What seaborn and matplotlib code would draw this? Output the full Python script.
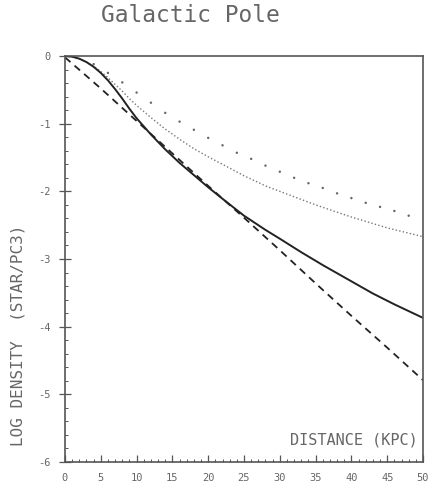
import matplotlib
matplotlib.use("Agg")
import matplotlib.pyplot as plt
from matplotlib.ticker import MultipleLocator
import seaborn as sns
import pandas as pd

sns.set_theme(style="white")
plt.rcParams['font.family'] = ['DejaVu Sans Mono', 'DejaVu Sans']

# ---- data ----
solid_x = [0, 1, 2, 3, 4, 5, 6, 7, 8, 9, 10, 11, 12, 13, 14, 15, 16, 18, 20, 22, 25, 28, 30,
           33, 36, 40, 43, 46, 50]
solid_y = [0, -0.01, -0.04, -0.09, -0.16, -0.25, -0.36, -0.49, -0.63, -0.78, -0.92, -1.04,
           -1.16, -1.27, -1.38, -1.48, -1.58, -1.76, -1.94, -2.11, -2.36, -2.57, -2.70,
           -2.90, -3.09, -3.33, -3.51, -3.67, -3.87]

dashed_x = [0, 5, 10, 15, 20, 25, 30, 35, 40, 45, 50]
dashed_y = [-0.02, -0.48, -0.96, -1.44, -1.92, -2.39, -2.87, -3.36, -3.84, -4.31, -4.79]

dotted_x = [0, 1, 2, 3, 4, 5, 6, 7, 8, 9, 10, 12, 14, 16, 18, 20, 22, 25, 28, 30, 35, 40, 45, 50]
dotted_y = [0, -0.01, -0.04, -0.09, -0.15, -0.23, -0.32, -0.42, -0.52, -0.63, -0.73, -0.91,
            -1.08, -1.23, -1.37, -1.49, -1.60, -1.77, -1.92, -2.00, -2.20, -2.38, -2.54, -2.67]

sparse_x = [4, 6, 8, 10, 12, 14, 16, 18, 20, 22, 24, 26, 28, 30, 32, 34, 36, 38, 40, 42, 44, 46, 48]
sparse_y = [-0.12, -0.25, -0.39, -0.54, -0.69, -0.84, -0.97, -1.09, -1.21, -1.32, -1.43, -1.52,
            -1.62, -1.71, -1.80, -1.88, -1.95, -2.03, -2.10, -2.17, -2.23, -2.29, -2.36]

x_ticks = [0, 5, 10, 15, 20, 25, 30, 35, 40, 45, 50]
y_ticks = [0, -1, -2, -3, -4, -5, -6]

title = "Galactic Pole"
xlabel = "DISTANCE (KPC)"
ylabel = "LOG DENSITY  (STAR/PC3)"

grey = "#555555"
text_grey = "#666666"

fig = plt.figure(figsize=(4.29, 4.91), dpi=100)
ax = fig.add_axes([65 / 429, 1 - 462 / 491, (423 - 65) / 429, (462 - 56) / 491])

sns.lineplot(data=pd.DataFrame({"x": dotted_x, "y": dotted_y}), x="x", y="y", ax=ax,
             color="#777777", linewidth=1.0, linestyle=(0, (1, 1.6)), sort=False)
sns.lineplot(data=pd.DataFrame({"x": dashed_x, "y": dashed_y}), x="x", y="y", ax=ax,
             color="#222222", linewidth=1.3, linestyle=(0, (4, 3)), sort=False)
sns.lineplot(data=pd.DataFrame({"x": solid_x, "y": solid_y}), x="x", y="y", ax=ax,
             color="#222222", linewidth=1.4, sort=False)
sns.scatterplot(data=pd.DataFrame({"x": sparse_x, "y": sparse_y}), x="x", y="y", ax=ax,
                color="#666666", s=3, edgecolor="none")

ax.set_xlim(0, 50)
ax.set_ylim(-6, 0)
ax.set_xticks(x_ticks)
ax.set_yticks(y_ticks)
ax.xaxis.set_minor_locator(MultipleLocator(1))
ax.yaxis.set_minor_locator(MultipleLocator(0.2))
ax.set_xlabel("")
ax.set_ylabel("")

for s in ax.spines.values():
    s.set_color(grey)
    s.set_linewidth(1.2)
    s.set_visible(True)

ax.tick_params(axis="x", which="major", direction="in", length=5, width=0.9, color=grey,
               labelsize=7.5, labelcolor=text_grey, pad=8, bottom=True, top=False)
ax.tick_params(axis="x", which="minor", direction="in", length=2.5, width=0.7, color=grey,
               bottom=True, top=False)
ax.tick_params(axis="y", which="major", direction="inout", length=9, width=0.9, color=grey,
               labelsize=7.5, labelcolor=text_grey, pad=6, left=True, right=False)
ax.tick_params(axis="y", which="minor", direction="in", length=2.5, width=0.7, color=grey,
               left=True, right=False)
ax.set_yticklabels([str(v) for v in y_ticks])

ax.text(49.2, -5.67, xlabel, ha="right", va="center", fontsize=11, color=text_grey)
fig.text(190 / 429, 1 - 16 / 491, title, ha="center", va="center", fontsize=16.5, color=text_grey)
fig.text(18 / 429, 1 - 335 / 491, ylabel, ha="center", va="center", rotation=90,
         fontsize=11.5, color=text_grey)

fig.savefig("out.png", dpi=100)
